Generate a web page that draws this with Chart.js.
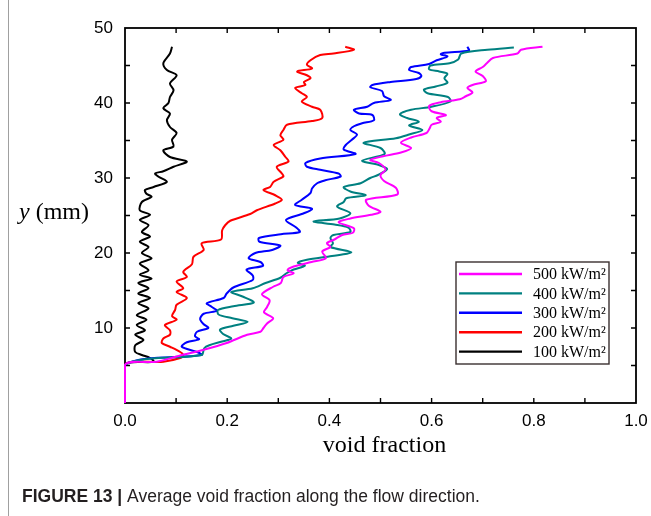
<!DOCTYPE html>
<html>
<head>
<meta charset="utf-8">
<script src="https://cdn.jsdelivr.net/npm/chart.js@4/dist/chart.umd.min.js"></script>
<style>
  body { margin: 0; background: #fff; }
  canvas { display: block; }
</style>
</head>
<body>
<canvas id="chart" width="651" height="516"></canvas>
<script>
// [void fraction, y (mm)], bottom to top
const curve500 = [[0,0],[0,5.1],[0.062,5.5],[0.101,6.2],[0.154,7.1],[0.199,8.0],[0.239,9.1],[0.265,9.5],[0.271,10.0],[0.278,10.6],[0.290,11.3],[0.272,12.1],[0.278,12.8],[0.283,13.7],[0.268,14.5],[0.290,15.5],[0.305,16.0],[0.310,16.8],[0.330,17.3],[0.318,17.7],[0.330,18.2],[0.365,18.8],[0.393,19.3],[0.386,20.2],[0.402,20.8],[0.395,21.3],[0.410,21.8],[0.425,22.4],[0.446,22.7],[0.448,23.3],[0.418,24.1],[0.441,24.6],[0.482,25.1],[0.500,25.5],[0.477,26.3],[0.472,27.1],[0.533,27.8],[0.530,28.7],[0.507,29.6],[0.500,30.4],[0.510,31.1],[0.497,32.0],[0.480,32.4],[0.505,32.9],[0.540,33.4],[0.560,34.0],[0.540,34.7],[0.560,35.4],[0.590,36.0],[0.596,36.6],[0.600,37.1],[0.618,37.5],[0.610,38.0],[0.628,38.4],[0.600,38.9],[0.595,39.6],[0.618,40.1],[0.655,40.5],[0.667,40.9],[0.680,41.4],[0.670,42.0],[0.680,42.4],[0.706,42.9],[0.700,43.6],[0.686,44.2],[0.700,44.8],[0.708,45.3],[0.720,46.0],[0.768,46.6],[0.775,47.1],[0.817,47.5]];
const curve400 = [[0,0],[0,5.1],[0.150,6.4],[0.155,7.3],[0.165,7.7],[0.190,8.2],[0.208,8.6],[0.192,9.2],[0.186,9.8],[0.212,10.3],[0.240,10.8],[0.210,11.3],[0.183,11.8],[0.182,12.4],[0.212,12.9],[0.252,13.4],[0.230,14.2],[0.208,14.8],[0.250,15.3],[0.275,16.0],[0.304,16.7],[0.316,17.3],[0.330,17.8],[0.352,18.3],[0.338,18.7],[0.356,19.1],[0.405,19.6],[0.443,20.1],[0.402,20.8],[0.407,21.3],[0.402,22.0],[0.408,22.4],[0.441,22.8],[0.437,23.4],[0.410,23.8],[0.369,24.2],[0.420,24.6],[0.441,25.3],[0.415,26.2],[0.428,26.8],[0.433,27.3],[0.471,27.7],[0.441,28.2],[0.428,28.8],[0.461,29.3],[0.480,30.0],[0.495,30.4],[0.513,31.2],[0.498,31.7],[0.464,32.3],[0.508,33.2],[0.500,34.0],[0.467,34.7],[0.530,35.3],[0.556,35.8],[0.582,36.4],[0.556,37.0],[0.575,37.5],[0.552,38.0],[0.538,38.5],[0.560,39.1],[0.600,39.5],[0.637,40.2],[0.632,40.8],[0.592,41.3],[0.585,41.8],[0.608,42.2],[0.631,42.7],[0.625,43.3],[0.631,43.9],[0.615,44.2],[0.595,44.5],[0.598,45.0],[0.635,45.3],[0.652,45.8],[0.658,46.6],[0.709,47.1],[0.761,47.4]];
const curve300 = [[0,0],[0,5.1],[0.150,6.4],[0.141,6.8],[0.111,7.5],[0.121,8.1],[0.145,8.5],[0.137,8.9],[0.141,9.5],[0.163,10.0],[0.154,10.5],[0.147,11.2],[0.154,11.9],[0.180,12.3],[0.170,12.8],[0.160,13.3],[0.193,14.0],[0.199,14.6],[0.212,15.4],[0.250,16.4],[0.250,17.0],[0.238,17.8],[0.270,18.3],[0.265,18.8],[0.242,19.3],[0.255,20.0],[0.288,20.4],[0.304,21.0],[0.263,21.5],[0.262,22.0],[0.305,22.5],[0.342,22.8],[0.335,23.4],[0.315,24.4],[0.350,25.3],[0.366,25.9],[0.333,26.4],[0.346,27.1],[0.363,28.0],[0.366,28.6],[0.376,29.3],[0.392,29.7],[0.422,30.2],[0.418,30.6],[0.382,31.1],[0.356,31.5],[0.353,32.0],[0.382,32.6],[0.451,33.2],[0.428,33.8],[0.432,34.4],[0.444,35.1],[0.454,35.8],[0.441,36.4],[0.448,36.9],[0.464,37.3],[0.487,37.7],[0.484,38.4],[0.458,38.6],[0.448,39.1],[0.474,39.5],[0.487,40.0],[0.520,40.4],[0.507,40.9],[0.503,41.6],[0.480,42.1],[0.484,42.4],[0.520,42.8],[0.570,43.2],[0.580,43.6],[0.575,44.0],[0.556,44.4],[0.560,44.8],[0.595,45.2],[0.610,45.7],[0.631,46.2],[0.618,46.5],[0.625,46.7],[0.673,47.0],[0.670,47.5]];
const curve200 = [[0,0],[0,5.1],[0.075,5.5],[0.108,6.0],[0.114,6.4],[0.108,6.8],[0.088,7.5],[0.072,8.0],[0.075,8.6],[0.088,9.1],[0.088,9.7],[0.078,10.4],[0.101,11.1],[0.092,11.6],[0.098,12.4],[0.101,13.1],[0.121,14.0],[0.101,14.8],[0.114,15.3],[0.101,16.2],[0.121,16.8],[0.114,17.5],[0.131,18.5],[0.134,19.5],[0.154,20.4],[0.150,21.3],[0.188,21.8],[0.190,23.0],[0.196,23.7],[0.206,24.3],[0.245,25.2],[0.258,25.7],[0.294,26.6],[0.307,27.1],[0.294,27.7],[0.271,28.4],[0.284,28.8],[0.291,29.5],[0.310,30.2],[0.307,30.6],[0.297,31.5],[0.320,32.2],[0.314,32.8],[0.304,33.7],[0.291,34.4],[0.310,35.1],[0.304,35.7],[0.310,36.4],[0.317,37.1],[0.366,37.6],[0.386,38.0],[0.382,39.1],[0.366,39.5],[0.346,40.2],[0.356,40.8],[0.346,41.3],[0.333,42.0],[0.353,42.4],[0.350,42.8],[0.363,43.3],[0.356,43.7],[0.337,44.2],[0.366,44.6],[0.356,45.1],[0.363,45.7],[0.382,46.4],[0.408,46.6],[0.448,47.1],[0.431,47.5]];
const curve100 = [[0,0],[0,5.1],[0.056,5.5],[0.049,6.0],[0.033,6.4],[0.020,6.8],[0.020,7.7],[0.036,8.4],[0.020,9.1],[0.039,9.7],[0.023,10.4],[0.042,11.1],[0.023,11.7],[0.046,12.6],[0.026,13.3],[0.049,14.0],[0.026,14.6],[0.046,15.3],[0.026,16.0],[0.052,16.6],[0.029,17.1],[0.046,17.7],[0.029,18.6],[0.052,19.3],[0.033,20.0],[0.046,20.8],[0.029,21.5],[0.049,22.2],[0.033,22.8],[0.046,23.7],[0.029,24.4],[0.049,25.1],[0.029,25.7],[0.033,26.8],[0.052,27.5],[0.042,27.9],[0.039,28.4],[0.056,28.8],[0.082,29.5],[0.065,30.2],[0.059,30.6],[0.075,30.9],[0.095,31.5],[0.121,32.2],[0.088,32.8],[0.075,33.7],[0.095,34.2],[0.092,35.1],[0.101,36.0],[0.088,36.8],[0.082,37.7],[0.088,38.6],[0.075,39.3],[0.085,40.0],[0.088,40.8],[0.095,41.7],[0.088,42.6],[0.101,43.7],[0.082,44.4],[0.075,45.3],[0.088,46.6],[0.092,47.5]];

const seriesLabels = ["500 kW/m\u00b2", "400 kW/m\u00b2", "300 kW/m\u00b2", "200 kW/m\u00b2", "100 kW/m\u00b2"];
const seriesColors = ["#ff00ff", "#008080", "#0000ff", "#ff0000", "#000000"];
const curves = [curve500, curve400, curve300, curve200, curve100];

const xTicks = [0, 0.2, 0.4, 0.6, 0.8, 1.0];
const yTicks = [10, 20, 30, 40, 50];

const serif = "'Liberation Serif', 'Times New Roman', serif";
const sans = "'Liberation Sans', Arial, sans-serif";

const decor = {
  id: "decor",
  beforeDraw(chart) {
    const ctx = chart.ctx;
    ctx.save();
    ctx.fillStyle = "#fff";
    ctx.fillRect(0, 0, chart.width, chart.height);
    ctx.strokeStyle = "#a0a0a0";
    ctx.lineWidth = 1;
    ctx.beginPath();
    ctx.moveTo(8.5, 0);
    ctx.lineTo(8.5, chart.height);
    ctx.stroke();
    ctx.restore();
  },
  beforeDatasetsDraw(chart) {
    const { ctx, chartArea: a, scales: { x, y } } = chart;
    ctx.save();
    ctx.strokeStyle = "#000";
    ctx.lineWidth = 1.8;
    ctx.strokeRect(a.left, a.top, a.right - a.left, a.bottom - a.top);
    ctx.lineWidth = 1.4;
    ctx.beginPath();
    for (let i = 1; i < 10; i++) {
      const px = x.getPixelForValue(i / 10);
      ctx.moveTo(px, a.bottom); ctx.lineTo(px, a.bottom - 5);
      ctx.moveTo(px, a.top); ctx.lineTo(px, a.top + 5);
    }
    for (let v = 5; v < 50; v += 5) {
      const py = y.getPixelForValue(v);
      ctx.moveTo(a.left, py); ctx.lineTo(a.left + 5, py);
      ctx.moveTo(a.right, py); ctx.lineTo(a.right - 5, py);
    }
    ctx.stroke();
    ctx.restore();
  },
  afterDraw(chart) {
    const { ctx, chartArea: a } = chart;
    ctx.save();
    ctx.fillStyle = "#000";
    // axis titles
    ctx.font = "24px " + serif;
    ctx.textAlign = "center";
    ctx.textBaseline = "alphabetic";
    ctx.fillText("void fraction", (a.left + a.right) / 2 + 4, 452);
    ctx.textAlign = "left";
    ctx.font = "italic 24px " + serif;
    ctx.fillText("y", 19, 219);
    const yw = ctx.measureText("y").width;
    ctx.font = "24px " + serif;
    ctx.fillText(" (mm)", 19 + yw, 219);

    // legend
    const bx = 456, by = 262, bw = 153, bh = 102;
    ctx.fillStyle = "#fff";
    ctx.fillRect(bx, by, bw, bh);
    ctx.strokeStyle = "#3a3030";
    ctx.lineWidth = 1.4;
    ctx.strokeRect(bx, by, bw, bh);
    ctx.font = "16px " + serif;
    ctx.textBaseline = "middle";
    chart.data.datasets.forEach((ds, i) => {
      const ry = by + 12 + i * 19.4;
      ctx.strokeStyle = ds.borderColor;
      ctx.lineWidth = 2.4;
      ctx.beginPath();
      ctx.moveTo(bx + 3, ry);
      ctx.lineTo(bx + 66, ry);
      ctx.stroke();
      ctx.fillStyle = "#000";
      ctx.fillText(ds.label, bx + 77, ry + 1);
    });

    // caption
    ctx.textBaseline = "alphabetic";
    ctx.fillStyle = "#231f20";
    ctx.font = "bold 17.5px " + sans;
    const head = "FIGURE 13 | ";
    ctx.fillText(head, 22, 502);
    const hw = ctx.measureText(head).width;
    ctx.font = "17.5px " + sans;
    ctx.fillText("Average void fraction along the flow direction.", 22 + hw, 502);
    ctx.restore();
  }
};

new Chart(document.getElementById("chart"), {
  type: "scatter",
  data: {
    datasets: curves.map((c, i) => ({
      label: seriesLabels[i],
      data: c.map(p => ({ x: p[0], y: p[1] })),
      showLine: true,
      borderColor: seriesColors[i],
      backgroundColor: seriesColors[i],
      borderWidth: 2,
      pointRadius: 0,
      tension: 0.3,
      clip: 4,
    })),
  },
  options: {
    responsive: false,
    animation: false,
    devicePixelRatio: 1,
    layout: { padding: { left: 0, right: 15, top: 28, bottom: 0 } },
    plugins: { legend: { display: false }, tooltip: { enabled: false } },
    scales: {
      x: {
        type: "linear",
        min: 0,
        max: 1,
        afterFit: (s) => { s.height = 113; s.paddingLeft = 0; s.paddingRight = 0; },
        afterBuildTicks: (s) => { s.ticks = xTicks.map(v => ({ value: v })); },
        grid: { display: false, drawTicks: false },
        border: { display: false },
        ticks: {
          padding: 8,
          color: "#000",
          font: { family: sans, size: 17 },
          callback: (v) => Number(v).toFixed(1),
        },
      },
      y: {
        type: "linear",
        min: 0,
        max: 50,
        afterFit: (s) => { s.width = 125; s.paddingTop = 0; s.paddingBottom = 0; },
        afterBuildTicks: (s) => { s.ticks = yTicks.map(v => ({ value: v })); },
        grid: { display: false, drawTicks: false },
        border: { display: false },
        ticks: {
          padding: 12,
          color: "#000",
          font: { family: sans, size: 17 },
        },
      },
    },
  },
  plugins: [decor],
});
</script>
</body>
</html>
